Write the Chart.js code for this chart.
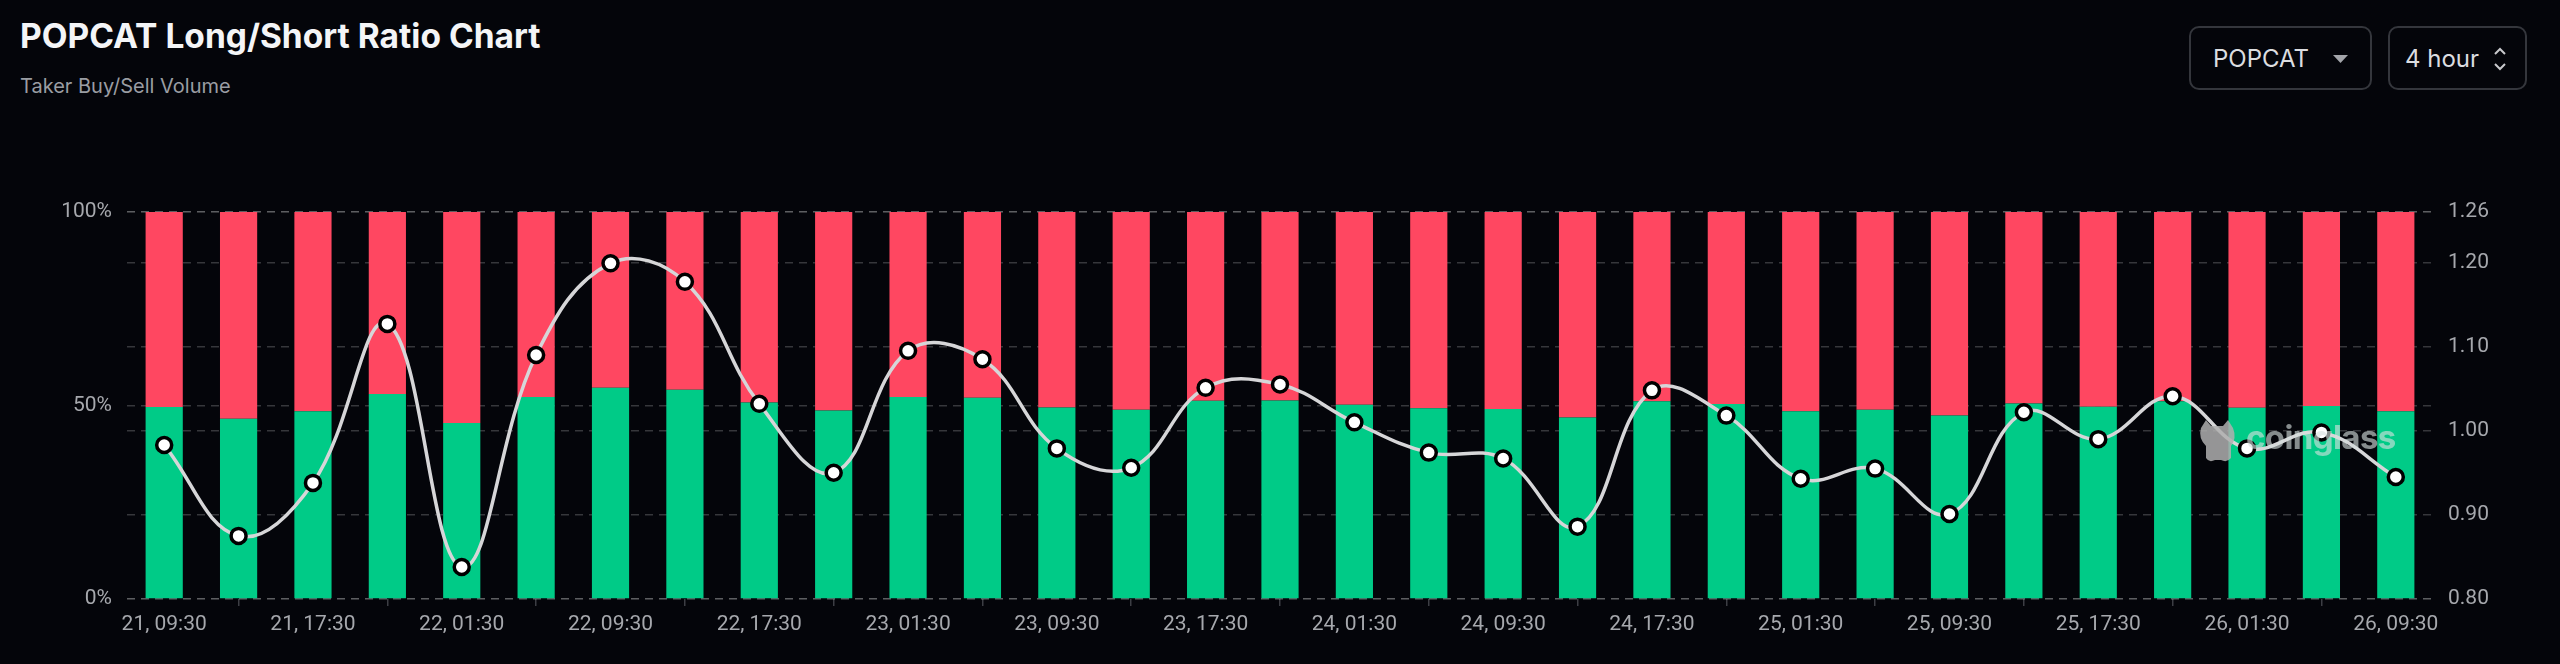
<!DOCTYPE html>
<html>
<head>
<meta charset="utf-8">
<script src="https://cdn.jsdelivr.net/npm/chart.js"></script>
<style>
  html, body { margin: 0; padding: 0; background: #04050a; }
  body { width: 2560px; height: 664px; position: relative; overflow: hidden; font-family: Inter, "Noto Sans", sans-serif; }
  .title { position: absolute; left: 20px; top: 20px; font-size: 33.5px; line-height: 1; font-weight: 700; color: #f4f5f7; }
  .subtitle { position: absolute; left: 20px; top: 76px; font-size: 20px; line-height: 1; color: #9a9da3; }
  .box { position: absolute; top: 26px; height: 60px; border: 2px solid #34363c; border-radius: 10px; display: flex; align-items: center; color: #dcdde0; font-size: 24px; box-sizing: content-box; }
  .box1 { left: 2189px; width: 179px; }
  .box2 { left: 2388px; width: 135px; }
  .box1 span { margin-left: 22px; }
  .box2 span { margin-left: 15px; }
  .box svg { position: absolute; }
  #wrap { position: absolute; left: 0; top: 180px; width: 2560px; height: 484px; }
  .mark { position: absolute; left: 2246px; top: 421px; font-size: 33px; font-weight: 700; color: rgba(215, 225, 222, 0.62); letter-spacing: -0.6px; line-height: 1; pointer-events: none; }
  .logo { position: absolute; left: 2197px; top: 418px; pointer-events: none; }
</style>
</head>
<body>
<div class="title">POPCAT Long/Short Ratio Chart</div>
<div class="subtitle">Taker Buy/Sell Volume</div>
<div class="box box1"><span>POPCAT</span>
  <svg style="left:142px;top:27px" width="15" height="9" viewBox="0 0 15 9"><path d="M0 0 L15 0 L7.5 8 Z" fill="#a3a5aa"/></svg>
</div>
<div class="box box2"><span>4 hour</span>
  <svg style="left:103px;top:18px" width="14" height="26" viewBox="0 0 14 26"><path d="M2 8 L7 3 L12 8 M2 18 L7 23 L12 18" stroke="#c8c9cc" stroke-width="2" fill="none"/></svg>
</div>
<div id="wrap"><canvas id="ratioChart"></canvas></div>
<svg class="logo" width="42" height="46" viewBox="0 0 42 46">
  <path d="M4 10 L9 2 L14 8 L26 8 L31 2 L36 10 Q40 20 34 28 L34 40 Q30 45 24 42 L18 42 Q12 45 9 40 L9 28 Q1 20 4 10 Z" fill="rgba(175,175,175,0.85)"/>
</svg>
<div class="mark">coinglass</div>
<script>
// البيانات
const labels = [
    '21, 09:30', '21, 13:30', '21, 17:30', '21, 21:30', '22, 01:30', '22, 05:30',
    '22, 09:30', '22, 13:30', '22, 17:30', '22, 21:30', '23, 01:30', '23, 05:30',
    '23, 09:30', '23, 13:30', '23, 17:30', '23, 21:30', '24, 01:30', '24, 05:30',
    '24, 09:30', '24, 13:30', '24, 17:30', '24, 21:30', '25, 01:30', '25, 05:30',
    '25, 09:30', '25, 13:30', '25, 17:30', '25, 21:30', '26, 01:30', '26, 05:30',
    '26, 09:30'
];

// نسبة الشراء (%)
const buyPct = [
    49.6, 46.6, 48.5, 53.0, 45.5, 52.2, 54.6, 54.1, 50.8, 48.7,
    52.2, 52.0, 49.5, 48.9, 51.2, 51.3, 50.2, 49.3, 49.1, 46.9,
    51.1, 50.4, 48.5, 48.9, 47.4, 50.5, 49.7, 51.1, 49.4, 49.9,
    48.5
];

// نسبة البيع (%)
const sellPct = [
    50.4, 53.4, 51.5, 47.0, 54.5, 47.8, 45.4, 45.9, 49.2, 51.3,
    47.8, 48.0, 50.5, 51.1, 48.8, 48.7, 49.8, 50.7, 50.9, 53.1,
    48.9, 49.6, 51.5, 51.1, 52.6, 49.5, 50.3, 48.9, 50.6, 50.1,
    51.5
];

// نسبة الشراء/البيع
const ratio = [
    0.983, 0.875, 0.938, 1.127, 0.838, 1.090, 1.199, 1.177, 1.032, 0.950,
    1.095, 1.085, 0.979, 0.956, 1.051, 1.055, 1.010, 0.974, 0.967, 0.886,
    1.048, 1.018, 0.943, 0.955, 0.901, 1.022, 0.990, 1.041, 0.979, 0.998,
    0.945
];

const leftTicks = [0, 50, 100];
const rightTicks = [0.80, 0.90, 1.00, 1.10, 1.20, 1.26];

const gridColor = 'rgba(255, 255, 255, 0.2)';
const tickColor = '#a6a8ad';
const tickFont = { family: 'Roboto, Inter, sans-serif', size: 21 };

document.addEventListener('DOMContentLoaded', function() {
    const ctx = document.getElementById('ratioChart').getContext('2d');

    new Chart(ctx, {
        type: 'bar',
        data: {
            labels: labels,
            datasets: [
                {
                    type: 'line',
                    label: 'Ratio',
                    data: ratio,
                    yAxisID: 'y1',
                    borderColor: '#d6d6d8',
                    borderWidth: 3.5,
                    tension: 0.4,
                    pointRadius: 7.5,
                    pointBorderWidth: 3.5,
                    pointBackgroundColor: '#ffffff',
                    pointBorderColor: '#000000',
                    order: 0
                },
                {
                    label: 'Buy',
                    data: buyPct,
                    backgroundColor: '#00cb87',
                    yAxisID: 'y',
                    stack: 's',
                    order: 1
                },
                {
                    label: 'Sell',
                    data: sellPct,
                    backgroundColor: '#ff4761',
                    yAxisID: 'y',
                    stack: 's',
                    order: 1
                }
            ]
        },
        options: {
            responsive: true,
            maintainAspectRatio: false,
            animation: false,
            layout: { padding: { top: 32, left: 0, right: 0, bottom: 0 } },
            datasets: { bar: { barPercentage: 1, categoryPercentage: 0.5 } },
            plugins: {
                legend: { display: false },
                tooltip: { enabled: false }
            },
            scales: {
                x: {
                    stacked: true,
                    border: { display: false },
                    grid: { drawOnChartArea: false, drawTicks: true, tickLength: 7, color: '#3c3e44', lineWidth: 1.5 },
                    ticks: {
                        color: tickColor,
                        font: tickFont,
                        padding: 6,
                        autoSkip: false,
                        maxRotation: 0,
                        callback: function(value, index) {
                            return index % 2 === 0 ? labels[index] : null;
                        }
                    },
                    afterFit: function(scale) { scale.height = 65; }
                },
                y: {
                    stacked: true,
                    position: 'left',
                    min: 0,
                    max: 100,
                    border: { display: false, dash: [8, 6] },
                    grid: { color: gridColor, lineWidth: 1.5, drawTicks: false },
                    ticks: {
                        color: tickColor,
                        font: tickFont,
                        padding: 15,
                        callback: function(v) { return v + '%'; }
                    },
                    afterBuildTicks: function(scale) {
                        scale.ticks = leftTicks.map(v => ({ value: v }));
                    },
                    afterFit: function(scale) { scale.width = 127; }
                },
                y1: {
                    position: 'right',
                    min: 0.8,
                    max: 1.26,
                    border: { display: false, dash: [8, 6] },
                    grid: { color: gridColor, lineWidth: 1.5, drawTicks: false },
                    ticks: {
                        color: tickColor,
                        font: tickFont,
                        padding: 15,
                        callback: function(v) { return v.toFixed(2); }
                    },
                    afterBuildTicks: function(scale) {
                        scale.ticks = rightTicks.map(v => ({ value: v }));
                    },
                    afterFit: function(scale) { scale.width = 127; }
                }
            }
        }
    });
});
</script>
</body>
</html>
